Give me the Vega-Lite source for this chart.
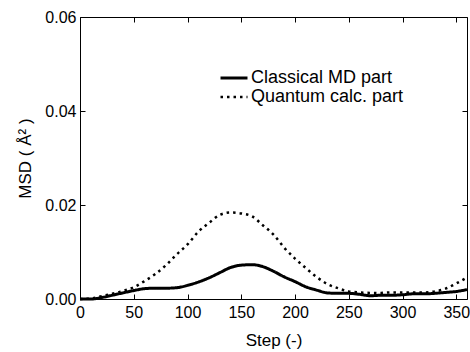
{
  "$schema": "https://vega.github.io/schema/vega-lite/v6.json",
  "autosize": "none",
  "width": 387,
  "height": 282,
  "padding": {"left": 80, "top": 17, "right": 3, "bottom": 53},
  "background": "white",
  "config": {
    "view": {"stroke": null},
    "font": "Liberation Sans",
    "axis": {"grid": false, "domainColor": "black", "tickColor": "black", "labelColor": "black", "titleColor": "black", "labelFont": "Liberation Sans", "titleFont": "Liberation Sans", "labelFontSize": 16, "titleFontSize": 17, "titleFontWeight": "normal", "tickSize": -5, "domainWidth": 1, "tickWidth": 1}
  },
  "data": {"values": [
    {"step": 0, "msd": 0.0000, "series": "Classical MD part"},
    {"step": 10, "msd": 0.0000, "series": "Classical MD part"},
    {"step": 20, "msd": 0.0003, "series": "Classical MD part"},
    {"step": 30, "msd": 0.0008, "series": "Classical MD part"},
    {"step": 40, "msd": 0.0013, "series": "Classical MD part"},
    {"step": 50, "msd": 0.0018, "series": "Classical MD part"},
    {"step": 60, "msd": 0.0022, "series": "Classical MD part"},
    {"step": 70, "msd": 0.0023, "series": "Classical MD part"},
    {"step": 80, "msd": 0.0023, "series": "Classical MD part"},
    {"step": 90, "msd": 0.0024, "series": "Classical MD part"},
    {"step": 100, "msd": 0.0029, "series": "Classical MD part"},
    {"step": 110, "msd": 0.0036, "series": "Classical MD part"},
    {"step": 120, "msd": 0.0045, "series": "Classical MD part"},
    {"step": 130, "msd": 0.0056, "series": "Classical MD part"},
    {"step": 140, "msd": 0.0067, "series": "Classical MD part"},
    {"step": 150, "msd": 0.0072, "series": "Classical MD part"},
    {"step": 160, "msd": 0.0073, "series": "Classical MD part"},
    {"step": 170, "msd": 0.0069, "series": "Classical MD part"},
    {"step": 180, "msd": 0.0059, "series": "Classical MD part"},
    {"step": 190, "msd": 0.0047, "series": "Classical MD part"},
    {"step": 200, "msd": 0.0037, "series": "Classical MD part"},
    {"step": 210, "msd": 0.0026, "series": "Classical MD part"},
    {"step": 220, "msd": 0.0019, "series": "Classical MD part"},
    {"step": 230, "msd": 0.0013, "series": "Classical MD part"},
    {"step": 240, "msd": 0.0012, "series": "Classical MD part"},
    {"step": 250, "msd": 0.0012, "series": "Classical MD part"},
    {"step": 260, "msd": 0.0010, "series": "Classical MD part"},
    {"step": 270, "msd": 0.0007, "series": "Classical MD part"},
    {"step": 280, "msd": 0.0008, "series": "Classical MD part"},
    {"step": 290, "msd": 0.0008, "series": "Classical MD part"},
    {"step": 300, "msd": 0.0009, "series": "Classical MD part"},
    {"step": 310, "msd": 0.0011, "series": "Classical MD part"},
    {"step": 320, "msd": 0.0011, "series": "Classical MD part"},
    {"step": 330, "msd": 0.0012, "series": "Classical MD part"},
    {"step": 340, "msd": 0.0014, "series": "Classical MD part"},
    {"step": 350, "msd": 0.0016, "series": "Classical MD part"},
    {"step": 360, "msd": 0.0020, "series": "Classical MD part"},
    {"step": 0, "msd": 0.0000, "series": "Quantum calc. part"},
    {"step": 10, "msd": 0.0001, "series": "Quantum calc. part"},
    {"step": 20, "msd": 0.0006, "series": "Quantum calc. part"},
    {"step": 30, "msd": 0.0011, "series": "Quantum calc. part"},
    {"step": 40, "msd": 0.0017, "series": "Quantum calc. part"},
    {"step": 50, "msd": 0.0025, "series": "Quantum calc. part"},
    {"step": 60, "msd": 0.0038, "series": "Quantum calc. part"},
    {"step": 70, "msd": 0.0053, "series": "Quantum calc. part"},
    {"step": 80, "msd": 0.0072, "series": "Quantum calc. part"},
    {"step": 90, "msd": 0.0095, "series": "Quantum calc. part"},
    {"step": 100, "msd": 0.0116, "series": "Quantum calc. part"},
    {"step": 110, "msd": 0.0143, "series": "Quantum calc. part"},
    {"step": 120, "msd": 0.0162, "series": "Quantum calc. part"},
    {"step": 130, "msd": 0.0179, "series": "Quantum calc. part"},
    {"step": 140, "msd": 0.0184, "series": "Quantum calc. part"},
    {"step": 150, "msd": 0.0182, "series": "Quantum calc. part"},
    {"step": 160, "msd": 0.0176, "series": "Quantum calc. part"},
    {"step": 170, "msd": 0.0157, "series": "Quantum calc. part"},
    {"step": 180, "msd": 0.0137, "series": "Quantum calc. part"},
    {"step": 190, "msd": 0.0109, "series": "Quantum calc. part"},
    {"step": 200, "msd": 0.0086, "series": "Quantum calc. part"},
    {"step": 210, "msd": 0.0066, "series": "Quantum calc. part"},
    {"step": 220, "msd": 0.0047, "series": "Quantum calc. part"},
    {"step": 230, "msd": 0.0032, "series": "Quantum calc. part"},
    {"step": 240, "msd": 0.0023, "series": "Quantum calc. part"},
    {"step": 250, "msd": 0.0016, "series": "Quantum calc. part"},
    {"step": 260, "msd": 0.0014, "series": "Quantum calc. part"},
    {"step": 270, "msd": 0.0013, "series": "Quantum calc. part"},
    {"step": 280, "msd": 0.0013, "series": "Quantum calc. part"},
    {"step": 290, "msd": 0.0014, "series": "Quantum calc. part"},
    {"step": 300, "msd": 0.0014, "series": "Quantum calc. part"},
    {"step": 310, "msd": 0.0014, "series": "Quantum calc. part"},
    {"step": 320, "msd": 0.0014, "series": "Quantum calc. part"},
    {"step": 330, "msd": 0.0016, "series": "Quantum calc. part"},
    {"step": 340, "msd": 0.0022, "series": "Quantum calc. part"},
    {"step": 350, "msd": 0.0033, "series": "Quantum calc. part"},
    {"step": 360, "msd": 0.0046, "series": "Quantum calc. part"}
  ]},
  "layer": [
    {
      "mark": {"type": "line", "color": "black", "strokeCap": "butt", "interpolate": "monotone"},
      "encoding": {
        "x": {"field": "step", "type": "quantitative", "scale": {"domain": [0, 360], "nice": false, "zero": false},
              "axis": {"values": [0, 50, 100, 150, 200, 250, 300, 350], "title": "Step (-)", "titleFontWeight": "normal", "labelPadding": 10, "titlePadding": 12, "labelFlush": false, "labelOverlap": false}},
        "y": {"field": "msd", "type": "quantitative", "scale": {"domain": [0, 0.06], "nice": false},
              "axis": {"values": [0, 0.02, 0.04, 0.06], "format": ".2f", "title": "MSD ( Å² )", "titleFontWeight": "normal", "labelPadding": 9, "titlePadding": 10, "labelFlush": false}},
        "strokeDash": {"field": "series", "type": "nominal", "scale": {"domain": ["Classical MD part", "Quantum calc. part"], "range": [[1, 0], [2.5, 4]]},
                       "legend": {"title": null, "orient": "none", "legendX": 145, "legendY": 52, "symbolType": "M-2,0H2", "symbolSize": 182, "symbolStrokeColor": "black", "symbolStrokeWidth": 2.5, "labelFont": "Liberation Sans", "labelFontSize": 18, "labelColor": "black", "labelOffset": 8, "rowPadding": 1}},
        "strokeWidth": {"field": "series", "type": "nominal", "scale": {"domain": ["Classical MD part", "Quantum calc. part"], "range": [3, 2.5]}, "legend": null}
      }
    },
    {
      "mark": {"type": "point", "opacity": 0},
      "encoding": {
        "x": {"field": "step", "type": "quantitative", "axis": {"orient": "top", "values": [0, 50, 100, 150, 200, 250, 300, 350], "labels": false, "title": null}},
        "y": {"field": "msd", "type": "quantitative", "axis": {"orient": "right", "values": [0, 0.02, 0.04, 0.06], "labels": false, "title": null}}
      }
    }
  ],
  "resolve": {"axis": {"x": "independent", "y": "independent"}}
}
